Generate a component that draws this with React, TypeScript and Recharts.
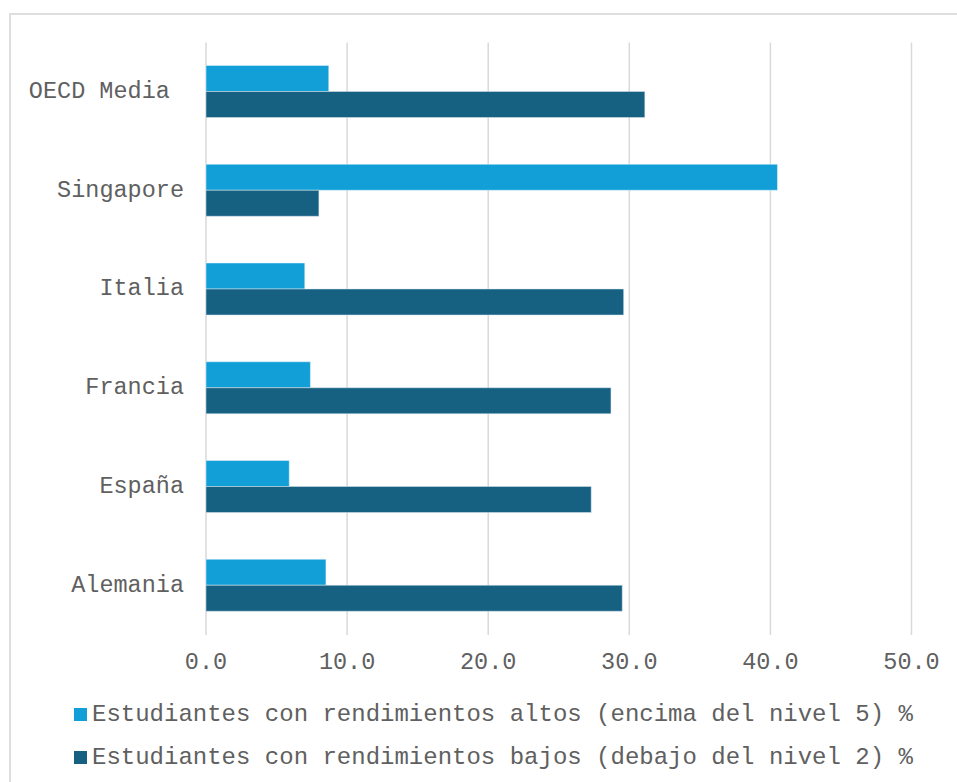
import React from 'react';
import {
  BarChart,
  Bar,
  XAxis,
  YAxis,
  CartesianGrid,
  Legend,
} from 'recharts';

const countries = ['OECD Media ', 'Singapore', 'Italia', 'Francia', 'España', 'Alemania'];
const highPerformers = [8.7, 40.5, 7.0, 7.4, 5.9, 8.5];
const lowPerformers = [31.1, 8.0, 29.6, 28.7, 27.3, 29.5];
const xTicks = [0, 10, 20, 30, 40, 50];

const seriesNames = {
  high: 'Estudiantes con rendimientos altos (encima del nivel 5) %',
  low: 'Estudiantes con rendimientos bajos (debajo del nivel 2) %',
};

const LIGHT = '#129fd7';
const DARK = '#166082';
const TEXT = '#606060';
const FONT = "'Liberation Mono', 'Courier New', monospace";

const data = countries.map((name, i) => ({
  name,
  high: highPerformers[i],
  low: lowPerformers[i],
}));

const CategoryTick = (props: any) => {
  const { x, y, payload } = props;
  return (
    <text
      x={x}
      y={y + 6}
      textAnchor="end"
      fill={TEXT}
      fontSize={23.5}
      fontFamily={FONT}
      style={{ whiteSpace: 'pre' }}
    >
      {payload.value}
    </text>
  );
};

const ValueTick = (props: any) => {
  const { x, y, payload } = props;
  return (
    <text x={x} y={y} textAnchor="middle" fill={TEXT} fontSize={23.5} fontFamily={FONT}>
      {Number(payload.value).toFixed(1)}
    </text>
  );
};

const LegendRows = () => {
  const rows = [
    { label: seriesNames.high, color: LIGHT },
    { label: seriesNames.low, color: DARK },
  ];
  return (
    <div style={{ fontFamily: FONT, fontSize: 24, color: TEXT }}>
      {rows.map((r) => (
        <div key={r.label} style={{ display: 'flex', alignItems: 'center', height: 43, whiteSpace: 'pre' }}>
          <span style={{ width: 13, height: 13, background: r.color, marginRight: 5, flex: 'none' }} />
          <span>{r.label}</span>
        </div>
      ))}
    </div>
  );
};

export default function App() {
  return (
    <div style={{ position: 'absolute', left: 0, top: 0, width: 957, height: 782, background: '#fff', overflow: 'hidden' }}>
      <div
        style={{
          position: 'absolute',
          left: 9,
          top: 13,
          width: 1000,
          height: 1000,
          borderTop: '2px solid #dedede',
          borderLeft: '2px solid #dedede',
        }}
      />
      <BarChart
        width={957}
        height={782}
        data={data}
        layout="vertical"
        barSize={26}
        barGap={0}
        margin={{ top: 42.5, right: 45.5, left: 0, bottom: 87 }}
      >
        <CartesianGrid horizontal={false} stroke="#d9d9d9" strokeWidth={1.5} />
        <XAxis
          type="number"
          domain={[0, 50]}
          ticks={xTicks}
          interval={0}
          axisLine={false}
          tickLine={false}
          tickSize={0}
          tickMargin={34}
          height={60}
          tick={<ValueTick />}
        />
        <YAxis
          type="category"
          dataKey="name"
          width={206}
          axisLine={false}
          tickLine={false}
          tickSize={0}
          tickMargin={22}
          interval={0}
          tick={<CategoryTick />}
        />
        <Legend
          layout="vertical"
          align="center"
          verticalAlign="middle"
          wrapperStyle={{ left: 74, top: 693, width: 880 }}
          content={<LegendRows />}
        />
        <Bar dataKey="high" name={seriesNames.high} fill={LIGHT} stroke="#e6f4fb" strokeWidth={0.5} isAnimationActive={false} />
        <Bar dataKey="low" name={seriesNames.low} fill={DARK} stroke="#dbe7ee" strokeWidth={0.5} isAnimationActive={false} />
      </BarChart>
    </div>
  );
}
